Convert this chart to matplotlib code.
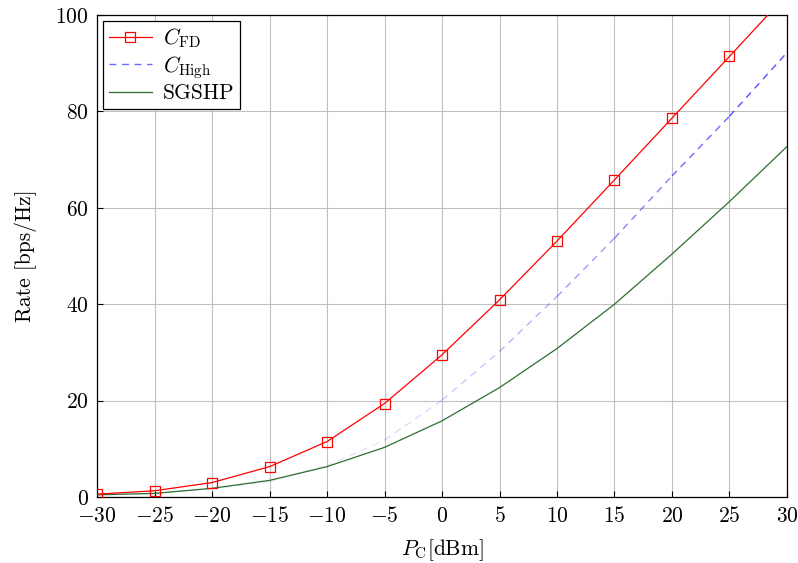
import numpy as np
import matplotlib
matplotlib.use("Agg")
import matplotlib.pyplot as plt

plt.rcParams['font.family'] = 'serif'
plt.rcParams['font.serif'] = ['cmr10']
plt.rcParams['mathtext.fontset'] = 'cm'
plt.rcParams['axes.formatter.use_mathtext'] = True

pc_dbm = [-30, -25, -20, -15, -10, -5, 0, 5, 10, 15, 20, 25, 30]
c_fd = [0.6, 1.3, 3.0, 6.3, 11.5, 19.4, 29.5, 40.9, 53.1, 65.8, 78.6, 91.4, 104.3]
c_high = [0.4, 0.8, 1.7, 3.2, 6.5, 11.8, 20.1, 30.2, 41.6, 53.7, 66.6, 79.0, 92.2]
sgshp = [0.45, 0.75, 1.8, 3.45, 6.3, 10.3, 15.8, 22.7, 30.8, 40.0, 50.4, 61.3, 72.7]

xticks = [-30, -25, -20, -15, -10, -5, 0, 5, 10, 15, 20, 25, 30]
yticks = [0, 20, 40, 60, 80, 100]

fig = plt.figure(figsize=(7.98, 5.63), dpi=100)
ax = fig.add_axes([0.1216, 0.1172, 0.8646, 0.8562])

ax.plot(pc_dbm, c_fd, color='red', lw=0.9, marker='s', markersize=7,
        markerfacecolor='none', markeredgecolor='red', markeredgewidth=0.9,
        label=r'$C_{\mathrm{FD}}$', zorder=4)

# dashed blue line, fading at low values
n = len(pc_dbm)
for i in range(n - 1):
    a = min(0.9, max(0.12, 0.12 + 0.8 * (c_high[i] - 5) / 80))
    ax.plot(pc_dbm[i:i + 2], c_high[i:i + 2], color='#3535ff', lw=1.0,
            ls=(0, (5, 4)), alpha=a, zorder=3)
ax.plot([], [], color='#6a6aff', lw=1.0, ls=(0, (5, 4)), label=r'$C_{\mathrm{High}}$')

ax.plot(pc_dbm, sgshp, color='#2e6e2e', lw=0.9, label='SGSHP', zorder=3)

ax.set_xlim(-30, 30)
ax.set_ylim(0, 100)
ax.set_xticks(xticks)
ax.set_yticks(yticks)
ax.grid(True, color='#c0c0c0', lw=0.8)
ax.set_axisbelow(True)
ax.tick_params(direction='in', length=4, width=0.8, labelsize=15.5, colors='black')
ax.tick_params(axis='x', pad=6.5)
ax.tick_params(axis='y', pad=6)
for s in ax.spines.values():
    s.set_color('black')
    s.set_linewidth(0.9)

ax.set_xlabel(r'$P_{\mathrm{C}}$[dBm]', fontsize=15.5, labelpad=8)
ax.set_ylabel('Rate [bps/Hz]', fontsize=15.5, labelpad=13)

leg = ax.legend(loc='upper left', fontsize=15.5, frameon=True, fancybox=False,
                edgecolor='black', framealpha=1, borderaxespad=0.3,
                handlelength=2.0, labelspacing=0.15, borderpad=0.25,
                handletextpad=0.5)
leg.get_frame().set_linewidth(0.9)

fig.savefig('out.png', dpi=100)
